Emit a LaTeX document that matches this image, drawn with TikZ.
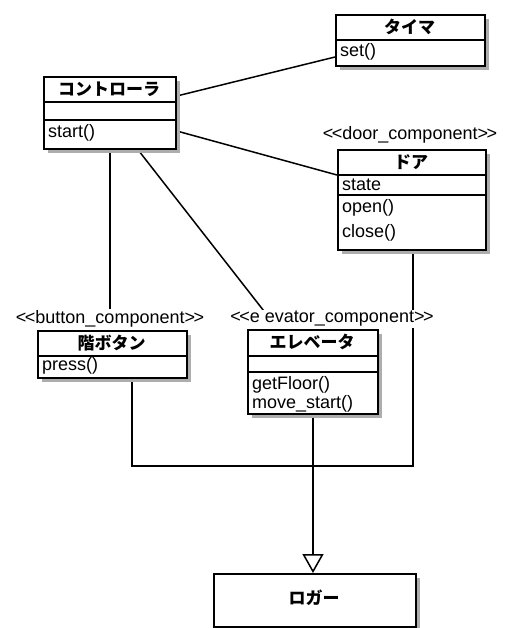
\documentclass[tikz,border=0pt]{standalone}
\usepackage{fontspec}
\setmainfont{Liberation Sans}
\newfontfamily\jp{Noto Sans CJK JP}
\usetikzlibrary{arrows.meta,calc,shadows}
\pgfdeclarelayer{bg}
\pgfsetlayers{bg,main}
\newcommand\lll{<\kern-1.5pt<}
\newcommand\ggg{>\kern-1.5pt>}
\begin{document}
\begin{tikzpicture}[x=1pt,y=-1pt,
  font=\fontsize{18}{20}\selectfont,
  cls/.style={draw, line width=1.8pt, fill=white, inner sep=0pt, anchor=north west,
    drop shadow={shadow xshift=4pt, shadow yshift=-4pt, fill=black!32, opacity=1}},
  sep/.style={line width=1.4pt},
  ttl/.style={font=\jp\bfseries\fontsize{17}{20}\selectfont, inner sep=0pt},
  mem/.style={anchor=west, inner sep=0pt},
  stereo/.style={fill=white, inner sep=1pt, font=\fontsize{18}{20}\selectfont},
  conn/.style={line width=1.5pt},
  gen/.style={line width=1.5pt, -{Triangle[open, length=19pt, width=21pt, line width=1.5pt]}}]
\useasboundingbox (0,0) rectangle (504,628);

% Timer
\node[cls, minimum width=149pt, minimum height=51pt] (tim) at (335,14) {};
\draw[sep] ($(tim.north west)+(0,26)$) -- ($(tim.north east)+(0,26)$);
\node[ttl] (timt) at (409.5,27) {タイマ};
\node[mem] (timm) at (340,52) {set()};

% Controller
\node[cls, minimum width=132pt, minimum height=72pt] (ctl) at (43,76) {};
\draw[sep] ($(ctl.north west)+(0,26)$) -- ($(ctl.north east)+(0,26)$);
\draw[sep] ($(ctl.north west)+(0,44)$) -- ($(ctl.north east)+(0,44)$);
\node[ttl] (ctlt) at (109,89) {コントローラ};
\node[mem] (ctlm) at (48,133) {start()};

% Door
\node[stereo] (doorst) at (410,135) {\lll door\_component\ggg};
\node[cls, minimum width=148pt, minimum height=100pt] (door) at (337,149) {};
\draw[sep] ($(door.north west)+(0,26)$) -- ($(door.north east)+(0,26)$);
\draw[sep] ($(door.north west)+(0,46)$) -- ($(door.north east)+(0,46)$);
\node[ttl] (doort) at (411,162) {ドア};
\node[mem] (doora) at (342,185) {state};
\node[mem] (dooro) at (342,208) {open()};
\node[mem] (doorc) at (342,233) {close()};

% Button
\node[stereo] (btnst) at (110,319) {\lll button\_component\ggg};
\node[cls, minimum width=149pt, minimum height=47pt] (btn) at (37,330) {};
\draw[sep] ($(btn.north west)+(0,26)$) -- ($(btn.north east)+(0,26)$);
\node[ttl] (btnt) at (111.5,343) {階ボタン};
\node[mem] (btnm) at (42,366) {press()};

% Elevator
\node[stereo] (elevst) at (332,319) {\lll e evator\_component\ggg};
\node[cls, minimum width=130pt, minimum height=84pt] (elev) at (247,329) {};
\draw[sep] ($(elev.north west)+(0,27)$) -- ($(elev.north east)+(0,27)$);
\draw[sep] ($(elev.north west)+(0,43)$) -- ($(elev.north east)+(0,43)$);
\node[ttl] (elevt) at (312,342) {エレベータ};
\node[mem] (elevm1) at (252,385) {getFloor()};
\node[mem] (elevm2) at (252,404) {move\_start()};

% Logger
\node[cls, minimum width=202pt, minimum height=53pt] (log) at (213,573) {};
\node[ttl] (logt) at (314,598) {ロガー};

\coordinate (j) at (313,466);

\begin{pgfonlayer}{bg}
\draw[conn] ($(ctl.north east)+(0,20)$) -- ($(tim.north west)+(0,43)$);
\draw[conn] ($(ctl.north east)+(0,55)$) -- ($(door.north west)+(0,26)$);
\draw[conn] ($(ctl.south west)+(67,0)$) -- (btnst.north -| {$(ctl.south west)+(67,0)$});
\draw[conn] ($(ctl.south west)+(95,0)$) -- ($(elevst.north west)+(34,0)$);
\draw[conn] ($(door.south west)+(76,0)$) |- (j);
\draw[conn] ($(btn.south west)+(95,0)$) |- (j);
\draw[gen] (elev.south -| j) -- (log.north -| j);
\end{pgfonlayer}
\end{tikzpicture}
\end{document}
